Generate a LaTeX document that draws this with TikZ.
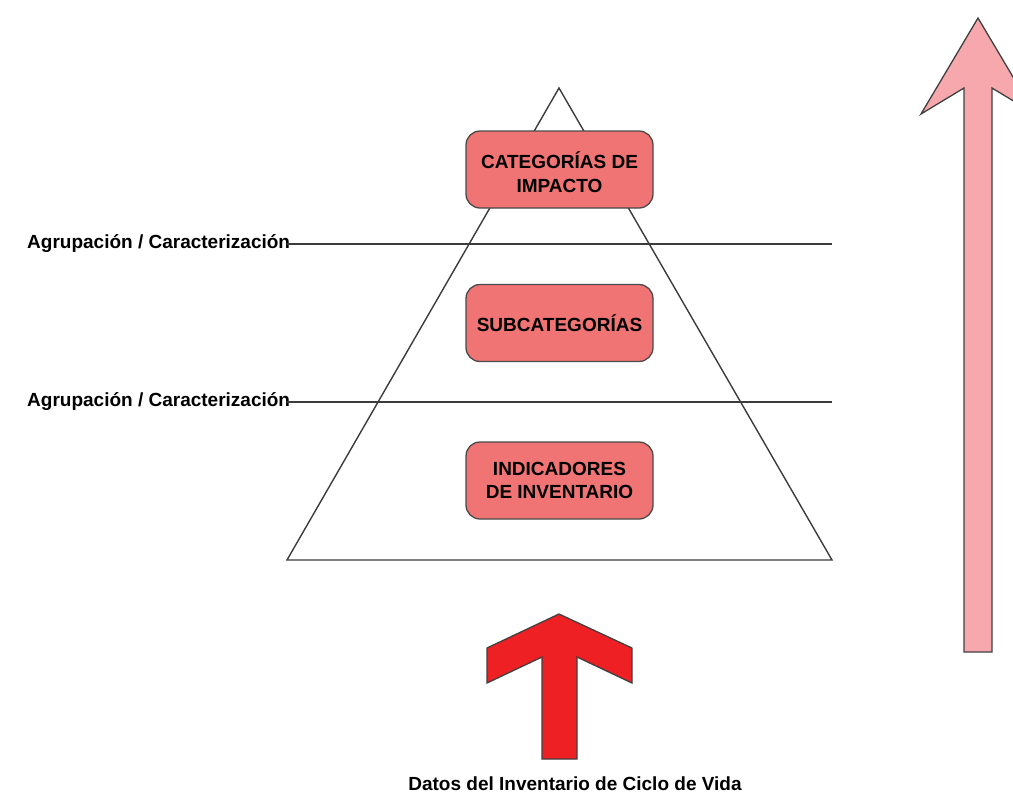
\documentclass[tikz,border=0pt]{standalone}
\usepackage{fontspec}
\setmainfont{Liberation Sans}
\definecolor{boxfill}{HTML}{F07474}
\definecolor{boxline}{HTML}{4A4A4A}
\definecolor{rule}{HTML}{3C3C3C}
\definecolor{flowred}{HTML}{EE2024}
\definecolor{flowpink}{HTML}{F6A8AD}
\begin{document}
\begin{tikzpicture}[x=1pt,y=-1pt,
  boxtext/.style={align=center, font=\bfseries\fontsize{19}{23.5}\selectfont},
  level/.style={draw=boxline, fill=boxfill, rounded corners=14pt, line width=1.3pt,
    minimum width=187pt, minimum height=77pt, inner sep=0pt, boxtext},
  tag/.style={anchor=west, inner sep=0pt, font=\bfseries\fontsize{19}{22}\selectfont},
  guide/.style={draw=rule, line width=1.2pt},
  bigarrow/.style={draw=black!75, line width=1.3pt, line join=miter}]
\useasboundingbox (0,0) rectangle (1013,793);
\clip (0,0) rectangle (1013,793);

% pyramid
\draw[draw=rule, line width=1.4pt, line join=miter] (559,88) -- (287,560) -- (832,560) -- cycle;

% grouping lines with their labels
\node[tag] (g1) at (27,244) {Agrupación / Caracterización};
\node[tag] (g2) at (27,402) {Agrupación / Caracterización};
\coordinate (g1end) at (832,244);
\coordinate (g2end) at (832,402);
\draw[guide] ([xshift=-3pt]g1.east) -- (g1end);
\draw[guide] ([xshift=-3pt]g2.east) -- (g2end);

% levels
\node[level] (impact) at (559.5,169.5) {};
\node[boxtext] (impacttext) at ([yshift=-2.5pt]impact.center) {CATEGORÍAS DE\\IMPACTO};
\node[level] (sub) at (559.5,323) {SUBCATEGORÍAS};
\node[level] (inv) at (559.5,480.5) {INDICADORES\\DE INVENTARIO};

% inventory data arrow
\draw[bigarrow, fill=flowred] (559,614) -- (487,648) -- (487,683) -- (542,657) -- (542,759)
  -- (577,759) -- (577,657) -- (632,683) -- (632,648) -- cycle;
\node[font=\bfseries\fontsize{19}{22}\selectfont] (data) at (575,784) {Datos del Inventario de Ciclo de Vida};

% side arrow
\draw[bigarrow, fill=flowpink] (978,18) -- (921,114) -- (964,88) -- (964,652) -- (992,652)
  -- (992,88) -- (1035,114) -- cycle;
\end{tikzpicture}
\end{document}
